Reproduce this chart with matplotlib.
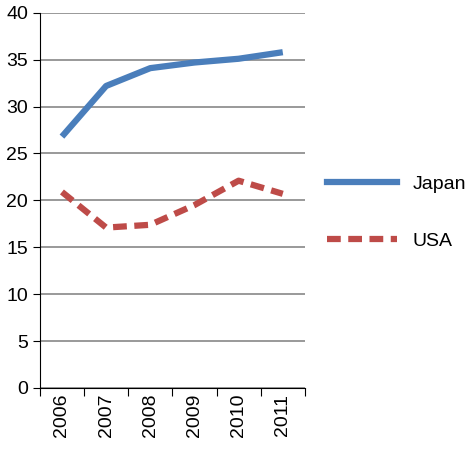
import matplotlib
matplotlib.use("Agg")
import matplotlib.pyplot as plt
from matplotlib.lines import Line2D

years = ["2006", "2007", "2008", "2009", "2010", "2011"]
japan = [26.8, 32.2, 34.1, 34.7, 35.1, 35.8]
usa = [20.9, 17.1, 17.4, 19.5, 22.1, 20.7]

fig = plt.figure(figsize=(4.69, 4.57), dpi=100)
ax = fig.add_axes([0.085, 0.151, 0.565, 0.821])
x = list(range(len(years)))
ax.plot(x, japan, color="#4a7ebb", lw=4.5, solid_capstyle="butt")
ax.plot(x, usa, color="#be4b48", lw=4.5, dashes=(2.2, 1.2))
ax.set_xlim(-0.5, 5.5)
ax.set_ylim(0, 40)
ax.set_yticks(range(0, 41, 5))
ax.set_xticks([i - 0.5 for i in range(7)], minor=False)
ax.set_xticklabels([])
ax.set_xticks(x, minor=True)
ax.set_xticklabels(years, minor=True, rotation=90, fontsize=14, family="Liberation Sans")
ax.tick_params(axis="x", which="minor", length=0, pad=4)
ax.tick_params(axis="x", which="major", length=6, direction="out")
ax.tick_params(axis="y", labelsize=14, length=5)
for l in ax.get_yticklabels():
    l.set_family("Liberation Sans")
ax.yaxis.grid(True, color="#888888", lw=1.2)
ax.set_axisbelow(True)
for s in ["top", "right"]:
    ax.spines[s].set_visible(False)
ax.spines["left"].set_color("black")
ax.spines["bottom"].set_color("black")

handles = [Line2D([], [], color="#4a7ebb", lw=4.5),
           Line2D([], [], color="#be4b48", lw=4.5, dashes=(2.2, 1.2))]
fig.legend(handles, ["Japan", "USA"], loc="center left", bbox_to_anchor=(0.66, 0.535),
           frameon=False, prop={"family": "Liberation Sans", "size": 14},
           handlelength=3.6, labelspacing=2.0)
fig.savefig("out.png", dpi=100)
